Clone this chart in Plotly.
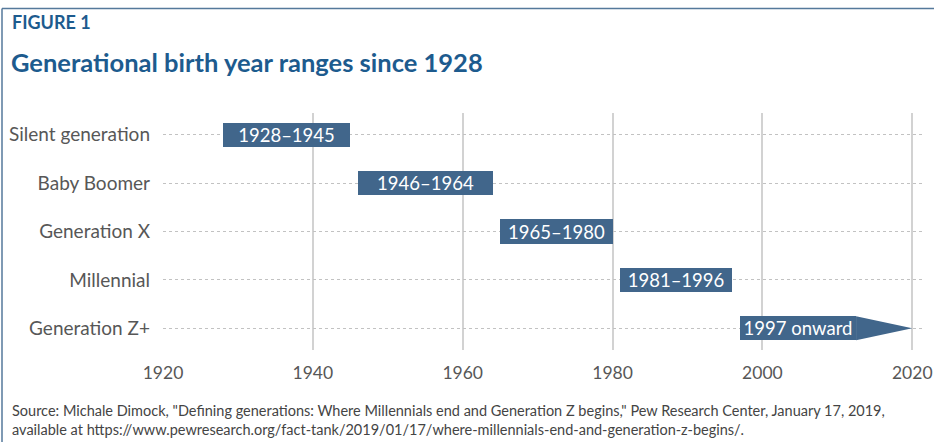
import plotly.graph_objects as go

# data
generations = ["Silent generation", "Baby Boomer", "Generation X", "Millennial", "Generation Z+"]
start_years = [1928, 1946, 1965, 1981, 1997]
end_years = [1945, 1964, 1980, 1996, 2012.5]   # last one: body of the arrow
bar_labels = ["1928–1945", "1946–1964", "1965–1980", "1981–1996", "1997 onward"]
arrow_tip_year = 2020
x_ticks = [1920, 1940, 1960, 1980, 2000, 2020]

BAR = "#41668b"
TITLE = "#1d5b8e"
GREY = "#575757"
FONT = "Lato"
bar_width = 0.5

rows = list(range(len(generations)))

fig = go.Figure()

fig.add_trace(go.Bar(
    y=rows,
    x=[e - s for s, e in zip(start_years, end_years)],
    base=start_years,
    orientation="h",
    width=bar_width,
    marker=dict(color=BAR, line=dict(width=0)),
    text=bar_labels,
    textposition="inside",
    insidetextanchor="middle",
    constraintext="none",
    textfont=dict(family=FONT, size=18.5, color="white"),
    hoverinfo="skip",
))

# arrow head for the open-ended generation
last = rows[-1]
fig.add_trace(go.Scatter(
    x=[end_years[-1], arrow_tip_year, end_years[-1], end_years[-1]],
    y=[last - bar_width / 2, last, last + bar_width / 2, last - bar_width / 2],
    mode="lines",
    fill="toself",
    fillcolor=BAR,
    line=dict(width=0, color=BAR),
    hoverinfo="skip",
))

fig.update_xaxes(
    range=[1920, 2021.7],
    tickvals=x_ticks,
    showgrid=True, gridcolor="#d2d2d2", gridwidth=2,
    zeroline=False, showline=False, automargin=False,
    ticks="", ticklabelstandoff=10, ticklabeloverflow="allow",
    tickfont=dict(family=FONT, size=17.5, color=GREY),
)
fig.update_yaxes(
    range=[len(generations) - 0.55, -0.45],
    tickvals=rows, ticktext=generations,
    showgrid=True, gridcolor="#c2c2c2", gridwidth=1.2, griddash="dot",
    zeroline=False, showline=False, automargin=False,
    ticks="", ticklabelstandoff=12,
    tickfont=dict(family=FONT, size=19, color=GREY),
)

# frame lines (left and top) in paper coords
plot_l, plot_r, plot_t, plot_b = 163, 925, 113, 350
pw, ph = plot_r - plot_l, plot_b - plot_t
def px_x(px):
    return (px - plot_l) / pw
def px_y(py):
    return (plot_b - py) / ph

fig.add_shape(type="line", xref="paper", yref="paper",
              x0=px_x(2), x1=px_x(934), y0=px_y(8.5), y1=px_y(8.5),
              line=dict(color="#55799b", width=1.5))
fig.add_shape(type="line", xref="paper", yref="paper",
              x0=px_x(2), x1=px_x(2), y0=px_y(8.5), y1=px_y(442),
              line=dict(color="#55799b", width=1.5))

fig.add_annotation(text="<b>FIGURE 1</b>", xref="paper", yref="paper",
                   x=px_x(10), y=px_y(22), xanchor="left", yanchor="middle",
                   showarrow=False, font=dict(family=FONT, size=18, color=TITLE))
fig.add_annotation(text="<b>Generational birth year ranges since 1928</b>",
                   xref="paper", yref="paper",
                   x=px_x(9), y=px_y(62), xanchor="left", yanchor="middle",
                   showarrow=False, font=dict(family=FONT, size=25.5, color=TITLE))
fig.add_annotation(
    text=('Source: Michale Dimock, "Defining generations: Where Millennials end and Generation Z begins," '
          'Pew Research Center, January 17, 2019,<br>'
          'available at https://www.pewresearch.org/fact-tank/2019/01/17/where-millennials-end-and-generation-z-begins/.'),
    xref="paper", yref="paper", x=px_x(10), y=px_y(419.5),
    xanchor="left", yanchor="middle", align="left", showarrow=False,
    font=dict(family=FONT, size=14.5, color="#444444"),
)

fig.update_layout(
    width=934, height=442,
    margin=dict(l=plot_l, r=934 - plot_r, t=plot_t, b=442 - plot_b),
    paper_bgcolor="white", plot_bgcolor="white",
    showlegend=False,
    bargap=0,
)

# drop the browser's default page margin so the figure sits at 0,0
fig.write_html("out.html", config={"displayModeBar": False},
               post_script="document.body.style.margin='0';")
